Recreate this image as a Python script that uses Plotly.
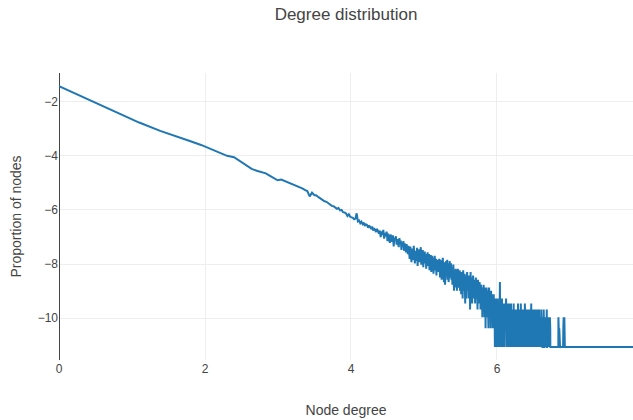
import numpy as np
import plotly.graph_objects as go

# Total number of nodes in the network
total_nodes = 64000

# Node counts for consecutive degrees 1, 2, 3, ... (0 = no node with that degree)
counts_1_55 = [15470, 6546, 4012, 2953, 2433, 2032, 1753, 1519, 1326, 1172,
               1115, 960, 826, 725, 674, 644, 612, 559, 516, 474,
               486, 463, 440, 418, 402, 386, 367, 353, 333, 319,
               262, 301, 275, 270, 254, 239, 232, 218, 214, 202,
               198, 184, 182, 175, 165, 170, 156, 159, 146, 144,
               139, 127, 135, 123, 121]
counts_56_120 = [118, 112, 115, 140, 104, 107, 97, 103, 94, 99, 88, 93, 91, 82, 89, 84, 78, 86, 74, 81,
                 77, 70, 79, 72, 66,
                 74, 58, 72, 63, 76, 55, 68, 60, 71, 50, 66, 57, 47, 64, 58, 49, 62, 41, 57, 52,
                 60, 44, 54, 48, 40, 56, 45, 51, 36, 48, 43, 50, 35, 46, 41, 33, 45, 39, 31, 42]
counts_121_180 = [36, 26, 41, 30, 23, 38, 33, 25, 42, 29, 22, 35, 31, 24, 39, 20, 33, 28, 37, 23,
                  31, 40, 21, 32, 27, 36, 19, 30, 25, 34, 22, 31, 18, 29, 26, 33, 20, 27, 31, 17,
                  27, 23, 30, 16, 26, 29, 20, 27, 15, 24, 22, 29, 17, 21, 26, 14, 24, 20, 25, 16]
counts_181_270 = [23, 16, 26, 19, 13, 25, 18, 22, 12, 24, 17, 27, 15, 21, 11, 23, 19, 10, 22, 16,
                  24, 14, 19, 25, 12, 18, 22, 11, 21, 16, 24, 13, 19, 15, 22,
                  12, 19, 15, 10, 18, 13, 21, 11, 8, 17, 12, 16, 9, 18, 14, 10, 17, 8, 15, 12,
                  18, 10, 14, 9, 16, 11, 17, 8, 13, 10,
                  15, 7, 12, 16, 9, 13, 6, 12, 17, 8, 11, 14, 7, 15, 10, 5, 13, 8, 14, 11,
                  6, 12, 16, 8, 10]
counts_271_330 = [12, 8, 14, 10, 6, 13, 9, 11, 4, 12, 16, 9, 10, 7, 13, 11, 5, 10, 12, 8,
                  14, 9, 6, 11, 10, 7, 12, 9, 5, 10, 8, 13, 7, 9, 11, 6, 10, 8, 4, 9,
                  12, 7, 8, 10, 5, 9, 7, 11, 6, 8, 9, 4, 7, 10, 6, 8, 5, 9, 7, 3]
counts_331_400 = [8, 6, 9, 4, 7, 10, 5, 6, 8, 3, 7, 9, 5, 6, 2, 8, 6, 7, 4, 9,
                  5, 6, 3, 7, 8, 4, 6, 5, 2, 7, 5, 9, 4, 6, 3, 5, 7, 4, 5, 2,
                  6, 8, 3, 5, 4, 6, 3, 7, 4, 5, 2, 6, 4, 5, 3, 7, 4, 2, 5, 6,
                  3, 1, 4, 5, 2, 4, 6, 3, 4, 2]
counts_401_528 = [3, 5, 1, 4, 3, 2, 6, 3, 1, 4, 2, 5, 3, 1, 4, 3, 2, 5, 7, 11,
                  3, 2, 4, 1, 3, 5, 2, 3, 1, 4, 2, 6, 3, 1, 2, 4, 3, 0, 2, 5,
                  1, 3, 2, 4, 1, 2, 5, 3, 1, 2, 3, 0, 4, 2, 1, 3, 6, 2, 1, 3,
                  2, 4, 1, 0, 3, 2, 5, 1, 2, 3, 1, 4, 2, 0, 3, 1, 2, 5, 2, 1,
                  3, 2, 0, 4, 1, 2, 3, 1, 5, 2, 0, 3, 1, 2, 4, 1, 0, 3, 2, 1,
                  4, 2, 0, 3, 1, 2, 5, 1, 0, 3, 2, 1, 4, 0, 2, 3, 1, 2, 0, 4,
                  1, 2, 3, 0, 1, 2, 4, 1]
counts_529_837 = [2, 3, 1, 4, 2, 0, 3, 1, 2, 5, 1, 3, 2, 1, 0, 3, 2, 4, 1, 2,
                  3, 1, 2, 0, 4, 2, 1, 3, 2, 1, 5, 2, 0, 3, 1, 2, 3, 1, 4, 2,
                  1, 0, 3, 2, 1, 2, 4, 1, 3, 0, 2, 1, 3, 2, 1, 4, 2, 0, 1, 3,
                  2, 1, 5, 2, 1, 3, 0, 2, 1, 3, 2, 4, 1, 2, 0, 1, 3, 2, 1, 2,
                  4, 1, 2, 3, 0, 1, 2, 3, 1, 2, 1, 4, 2, 0, 3, 1, 2, 1, 3, 2,
                  1, 2, 0, 3, 1, 4, 2, 1, 2, 3, 0, 1, 2, 1, 3, 2, 5, 1, 0, 2,
                  3, 1, 2, 1, 0, 2, 3, 1, 4, 1, 2, 0, 3, 2, 1, 1, 2, 3, 0, 2,
                  1, 3, 1, 2, 4, 0, 1, 2, 1, 3, 2, 1, 0, 2, 3, 1, 2, 1, 4, 1,
                  0, 2, 1, 3, 1, 2, 0, 1, 3, 2, 1, 2, 1, 0, 4, 1, 2, 1, 3, 0,
                  2, 1, 1, 3, 2, 0, 1, 2, 1, 4, 1, 0, 2, 3, 1, 1, 2, 0, 1, 3,
                  1, 2, 0, 1, 2, 3, 1, 0, 2, 1, 1, 4, 2, 1, 0, 2, 1, 3, 1, 0,
                  2, 1, 3, 1, 0, 1, 2, 1, 2, 0, 3, 1, 1, 2, 0, 1, 4, 1, 2, 1,
                  0, 2, 1, 1, 3, 0, 1, 2, 1, 0, 2, 1, 3, 1, 1, 0, 2, 1, 2, 1,
                  3, 0, 1, 1, 2, 1, 0, 2, 1, 4, 1, 0, 1, 2, 1, 3, 0, 1, 1, 2,
                  1, 0, 2, 1, 3, 1, 1, 0, 2, 1, 1, 2, 0, 3, 1, 1, 0, 2, 1, 1,
                  2, 1, 0, 1, 3, 1, 1, 0, 2]
counts_838_1030 = [1, 0, 1, 1, 0, 1, 0, 1, 1, 0, 1, 0, 0, 1, 1, 0, 1, 0, 1, 1,
                   0, 1, 0, 1, 0, 1, 1, 0, 1, 0, 1, 0, 1, 1, 0, 0, 1, 0, 1, 0,
                   1, 1, 0, 1, 0, 0, 1, 0, 1, 1, 0, 1, 0, 1, 0, 0, 1, 1, 0, 1,
                   0, 1, 0, 0, 1, 1, 0, 1, 0, 1, 0, 0, 1, 0, 1, 1, 0, 0, 1, 0,
                   1, 0, 1, 0, 0, 1, 1, 0, 1, 0, 0, 1, 0, 1, 0, 1, 0, 1,
                   3, 1, 0, 2, 1, 0, 1, 3, 1, 0, 1, 2, 1, 0, 1, 1, 0, 1, 0, 1,
                   0, 1, 1, 0, 1, 0, 0, 1, 0, 1, 1, 0, 0, 1, 0, 1, 0, 0, 1, 0,
                   1, 0, 0, 1, 0, 1, 0, 0, 1, 1, 0, 0, 1, 0, 0, 1, 0, 1, 0, 0,
                   1, 0, 1, 0, 0, 2, 1, 0, 1, 0, 3, 1, 0, 1, 0, 2, 0, 1, 0, 3,
                   1, 0, 0, 1, 0, 0, 1, 0, 0, 0, 1, 0, 0, 0, 1]

# Sparse very-high-degree nodes
tail_degrees = [1043, 1078, 1102, 1150, 1187, 1243, 1311, 1402, 1498, 1640, 1812, 2034, 2311, 2600]
tail_counts = [1, 1, 1, 1, 1, 1, 1, 1, 1, 1, 1, 1, 1, 1]

head_counts = (counts_1_55 + counts_56_120 + counts_121_180 + counts_181_270 + counts_271_330
               + counts_331_400 + counts_401_528 + counts_529_837 + counts_838_1030)
degrees = list(range(1, len(head_counts) + 1)) + tail_degrees
counts = head_counts + tail_counts

deg = np.array([d for d, c in zip(degrees, counts) if c > 0], dtype=float)
cnt = np.array([c for c in counts if c > 0], dtype=float)
x = np.log(deg)
y = np.log(cnt / total_nodes)

fig = go.Figure(go.Scatter(x=x, y=y, mode="lines",
                           line=dict(color="#1f77b4", width=2), showlegend=False))

ypad = 0.05 * (y.max() - y.min())
fig.update_layout(
    template="none",
    width=633, height=420,
    margin=dict(l=59, r=0, t=73, b=60),
    paper_bgcolor="white", plot_bgcolor="white",
    font=dict(family="Arial, Liberation Sans, sans-serif", color="#444", size=12),
    title=dict(text="Degree distribution", x=0.5, xref="paper", xanchor="center",
               y=1 - 14 / 420, yref="container", yanchor="middle",
               font=dict(size=17, color="#444")),
    xaxis=dict(title=dict(text="Node degree", font=dict(size=14), standoff=30),
               range=[x.min(), x.max()], dtick=2, showgrid=True, gridcolor="#eee",
               zeroline=True, zerolinecolor="#444", zerolinewidth=1, ticks="", showline=False),
    yaxis=dict(title=dict(text="Proportion of nodes", font=dict(size=14)),
               range=[y.min() - ypad, y.max() + ypad], dtick=2, showgrid=True, gridcolor="#eee",
               zeroline=False, ticks="", showline=False),
)

fig.write_html("out.html")
